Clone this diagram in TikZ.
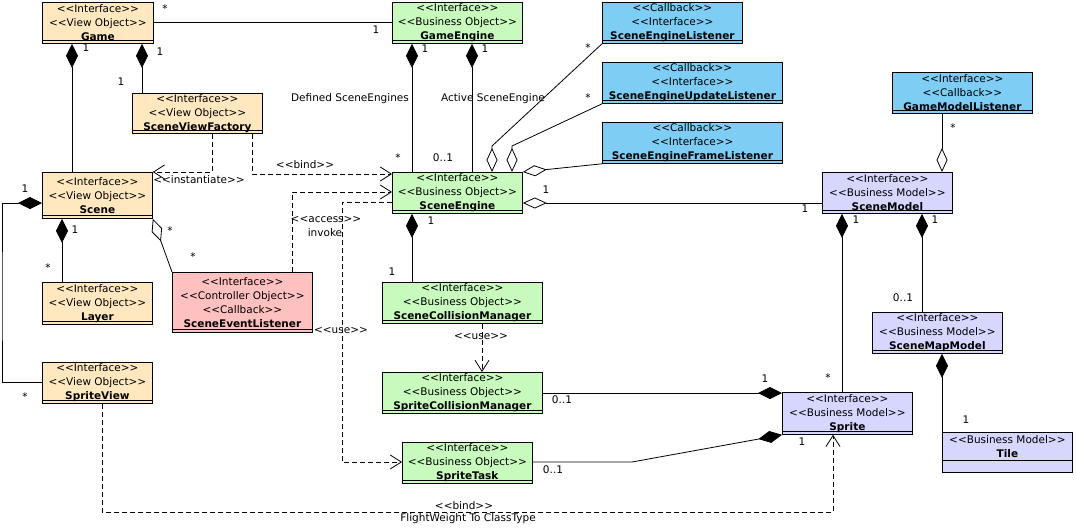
\documentclass[tikz,border=0pt]{standalone}
\usepackage{fontspec}
\setmainfont{DejaVu Sans}
\usetikzlibrary{arrows.meta}
\definecolor{vo}{RGB}{255,232,192}
\definecolor{bo}{RGB}{200,250,190}
\definecolor{cb}{RGB}{125,205,245}
\definecolor{bm}{RGB}{214,214,255}
\definecolor{co}{RGB}{255,192,192}
\newcommand{\bxfont}{\fontsize{10.5}{14}\selectfont}
\newcommand{\st}[1]{\mbox{<{}<#1>{}>}}
\begin{document}
\begin{tikzpicture}[x=1pt,y=-1pt,
  box/.style={draw, line width=0.8pt, inner sep=0pt, align=center, anchor=north west, font=\bxfont,
    path picture={\draw[line width=0.8pt] ([yshift=3pt]path picture bounding box.south west) -- ([yshift=3pt]path picture bounding box.south east);}},
  plainbox/.style={draw, line width=0.8pt, inner sep=0pt, align=center, anchor=north west, font=\bxfont},
  lbl/.style={font=\bxfont, inner sep=0pt},
  assoc/.style={draw, line width=0.8pt},
  comp/.style={draw, line width=0.8pt, {Diamond[length=24pt,width=12pt]}-},
  agg/.style={draw, line width=0.8pt, {Diamond[fill=white,length=24pt,width=11pt]}-},
  dep/.style={draw, line width=0.8pt, dash pattern=on 5pt off 3pt, -{Straight Barb[length=11pt,width=14pt]}}
]
\fill[white] (0,0) rectangle (1076,530);
\useasboundingbox (0,0) rectangle (1076,530);

% ---------- boxes ----------
\node[box, fill=vo, minimum width=111pt, minimum height=41pt] (game) at (42,2) {\st{Interface}\\\st{View Object}\\\textbf{Game}};
\node[box, fill=bo, minimum width=130pt, minimum height=41pt] (gameengine) at (392,2) {\st{Interface}\\\st{Business Object}\\\textbf{GameEngine}};
\node[box, fill=cb, minimum width=140pt, minimum height=41pt] (sel) at (602,2) {\st{Callback}\\\st{Interface}\\\textbf{SceneEngineListener}};
\node[box, fill=cb, minimum width=180pt, minimum height=41pt] (seul) at (602,62) {\st{Callback}\\\st{Interface}\\\textbf{SceneEngineUpdateListener}};
\node[box, fill=cb, minimum width=180pt, minimum height=41pt] (sefl) at (602,122) {\st{Callback}\\\st{Interface}\\\textbf{SceneEngineFrameListener}};
\node[box, fill=cb, minimum width=140pt, minimum height=41pt] (gml) at (892,72) {\st{Interface}\\\st{Callback}\\\textbf{GameModelListener}};
\node[box, fill=vo, minimum width=130pt, minimum height=40pt] (svf) at (132,93) {\st{Interface}\\\st{View Object}\\\textbf{SceneViewFactory}};
\node[box, fill=vo, minimum width=110pt, minimum height=46pt] (scene) at (42,172) {\st{Interface}\\\st{View Object}\\\textbf{Scene}};
\node[box, fill=bo, minimum width=130pt, minimum height=41pt] (sceneengine) at (392,172) {\st{Interface}\\\st{Business Object}\\\textbf{SceneEngine}};
\node[box, fill=bm, minimum width=130pt, minimum height=41pt] (scenemodel) at (822,172) {\st{Interface}\\\st{Business Model}\\\textbf{SceneModel}};
\node[box, fill=vo, minimum width=110pt, minimum height=42pt] (layer) at (42,282) {\st{Interface}\\\st{View Object}\\\textbf{Layer}};
\node[box, fill=co, minimum width=140pt, minimum height=60pt] (sevt) at (172,272) {\st{Interface}\\\st{Controller Object}\\\st{Callback}\\\textbf{SceneEventListener}};
\node[box, fill=bo, minimum width=160pt, minimum height=41pt] (scm) at (382,282) {\st{Interface}\\\st{Business Object}\\\textbf{SceneCollisionManager}};
\node[box, fill=bm, minimum width=130pt, minimum height=41pt] (smm) at (872,312) {\st{Interface}\\\st{Business Model}\\\textbf{SceneMapModel}};
\node[box, fill=vo, minimum width=110pt, minimum height=41pt] (spriteview) at (42,362) {\st{Interface}\\\st{View Object}\\\textbf{SpriteView}};
\node[box, fill=bo, minimum width=160pt, minimum height=41pt] (spcm) at (382,372) {\st{Interface}\\\st{Business Object}\\\textbf{SpriteCollisionManager}};
\node[box, fill=bm, minimum width=130pt, minimum height=42pt] (sprite) at (782,392) {\st{Interface}\\\st{Business Model}\\\textbf{Sprite}};
\node[box, fill=bo, minimum width=130pt, minimum height=41pt] (spritetask) at (402,442) {\st{Interface}\\\st{Business Object}\\\textbf{SpriteTask}};
\node[plainbox, fill=bm, minimum width=130pt, minimum height=28pt] (tile) at (942,432) {\st{Business Model}\\\textbf{Tile}};
\draw[line width=0.8pt, fill=bm] (tile.south west) rectangle ([yshift=-12pt]tile.south east);

% ---------- connectors ----------
\draw[assoc] (game.east |- 0,22) -- (gameengine.west |- 0,22);
\draw[comp] (game.south -| 72,0) -- (scene.north -| 72,0);
\draw[comp] (game.south -| 142,0) -- (svf.north -| 142,0);
\draw[dep] (svf.south -| 212,0) |- (scene.north east);
\draw[dep] (svf.south -| 252,0) |- (sceneengine.west |- 0,174);
\draw[dep] (sevt.north -| 292,0) |- (sceneengine.west |- 0,192);
\draw[dep] (sceneengine.west |- 0,202) -| (342,330) |- (spritetask.west |- 0,462);
\draw[comp] (scene.west |- 0,203) -| (2,300) |- (spriteview.west |- 0,382);
\draw[comp] (scene.south -| 62,0) -- (layer.north -| 62,0);
\draw[agg] (scene.south east) -- (sevt.north west);
\draw[comp] (gameengine.south -| 412,0) -- (sceneengine.north -| 412,0);
\draw[comp] (gameengine.south -| 472,0) -- (sceneengine.north -| 472,0);
\draw[agg] (sceneengine.north -| 492,0) -- (492,146) -- (sel.south west);
\draw[agg] (sceneengine.north -| 512,0) -- (512,146) -- (seul.south west);
\draw[agg] (sceneengine.north east) -- (sefl.south west);
\draw[agg] (sceneengine.east |- 0,203) -- (scenemodel.west |- 0,203);
\draw[comp] (sceneengine.south -| 412,0) -- (scm.north -| 412,0);
\draw[dep] (scm.south -| 482,0) -- (spcm.north -| 482,0);
\draw[comp] (sprite.west |- 0,393) -- (spcm.east |- 0,393);
\draw[comp] (sprite.south west) -- (632,462) -- (spritetask.east |- 0,462);
\draw[comp] (scenemodel.south -| 842,0) -- (sprite.north -| 842,0);
\draw[comp] (scenemodel.south -| 922,0) -- (smm.north -| 922,0);
\draw[agg] (scenemodel.north -| 942,0) -- (gml.south -| 942,0);
\draw[comp] (smm.south -| 942,0) -- (tile.north -| 942,0);
\draw[dep] (spriteview.south -| 102,0) -- (102,512) -| (sprite.south -| 833,0);

% ---------- labels ----------
\node[lbl] (l1) at (165,9) {*};
\node[lbl] (l2) at (376,30) {1};
\node[lbl] (l3) at (86,48) {1};
\node[lbl] (l4) at (160,52) {1};
\node[lbl] (l5) at (121,82) {1};
\node[lbl] (l6) at (199,180) {\st{instantiate}};
\node[lbl] (l7) at (305,165) {\st{bind}};
\node[lbl] (l8) at (326,220) {\st{access}};
\node[lbl] (l9) at (325,233) {invoke};
\node[lbl] (l10) at (341,331) {\st{use}};
\node[lbl] (l11) at (25,189) {1};
\node[lbl] (l12) at (25,397) {*};
\node[lbl] (l13) at (75,230) {1};
\node[lbl] (l14) at (48,268) {*};
\node[lbl] (l15) at (170,231) {*};
\node[lbl] (l16) at (193,257) {*};
\node[lbl] (l17) at (425,49) {1};
\node[lbl] (l18) at (398,158) {*};
\node[lbl] (l19) at (350,99) {Defined SceneEngines};
\node[lbl] (l20) at (485,49) {1};
\node[lbl] (l21) at (443,158) {0..1};
\node[lbl] (l22) at (493,99) {Active SceneEngine};
\node[lbl] (l23) at (588,48) {*};
\node[lbl] (l24) at (588,98) {*};
\node[lbl] (l25) at (546,190) {1};
\node[lbl] (l26) at (805,209) {1};
\node[lbl] (l27) at (431,221) {1};
\node[lbl] (l28) at (392,272) {1};
\node[lbl] (l29) at (481,337) {\st{use}};
\node[lbl] (l30) at (765,379) {1};
\node[lbl] (l31) at (562,400) {0..1};
\node[lbl] (l32) at (802,442) {1};
\node[lbl] (l33) at (553,470) {0..1};
\node[lbl] (l34) at (856,220) {1};
\node[lbl] (l35) at (828,378) {*};
\node[lbl] (l36) at (935,220) {1};
\node[lbl] (l37) at (903,298) {0..1};
\node[lbl] (l38) at (953,128) {*};
\node[lbl] (l39) at (966,420) {1};
\node[lbl] (l40) at (464,506) {\st{bind}};
\node[lbl] (l41) at (468,519) {FlightWeight To ClassType};
\end{tikzpicture}
\end{document}
